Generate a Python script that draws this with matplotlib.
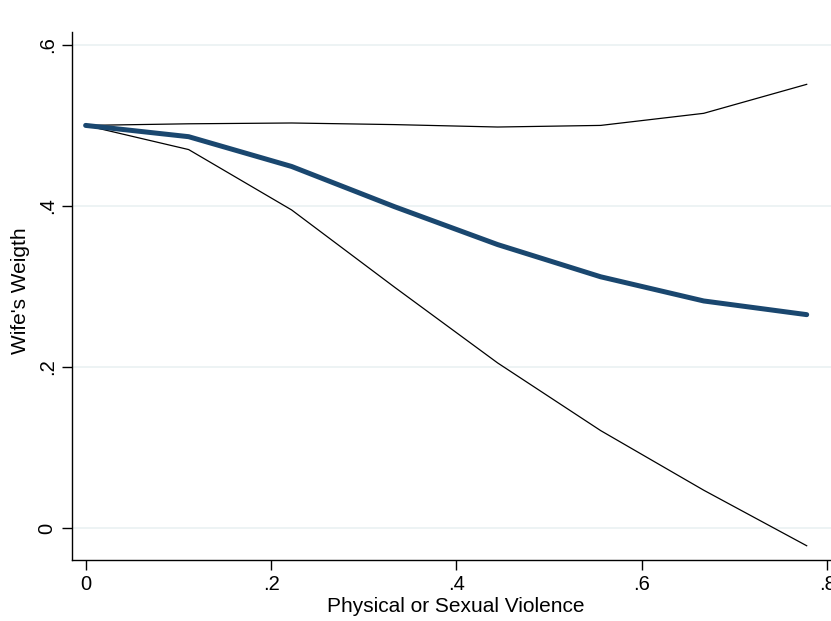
#!/usr/bin/env python3

import matplotlib
matplotlib.use('Agg')
from matplotlib import pyplot as plt

# Violence index grid and the fitted weight with its band
violence = [0, 1 / 9, 2 / 9, 3 / 9, 4 / 9, 5 / 9, 6 / 9, 7 / 9]
weight = [0.500, 0.486, 0.449, 0.399, 0.352, 0.312, 0.282, 0.265]
upper = [0.500, 0.502, 0.503, 0.501, 0.498, 0.500, 0.515, 0.551]
lower = [0.500, 0.470, 0.395, 0.299, 0.205, 0.121, 0.047, -0.022]

x_ticks = [0, 0.2, 0.4, 0.6, 0.8]
x_tick_labels = ['0', '.2', '.4', '.6', '.8']
y_ticks = [0, 0.2, 0.4, 0.6]
y_tick_labels = ['0', '.2', '.4', '.6']

out_file = 'out.png'

plt.rcParams['font.family'] = ['Liberation Sans', 'DejaVu Sans']

fig = plt.figure(figsize=(8.31, 6.21), dpi=100)
ax = fig.add_axes([72 / 831, 61 / 621, 759 / 831, 528 / 621])

# Band edges first, then the estimate on top
ax.plot(violence, upper, color='black', linewidth=0.9)
ax.plot(violence, lower, color='black', linewidth=0.9)
ax.plot(violence, weight, color='#1a476f', linewidth=3.6,
        solid_capstyle='round')

ax.set_xlim(-0.0147, 0.804)
ax.set_ylim(-0.0397, 0.616)

ax.set_xticks(x_ticks)
ax.set_xticklabels(x_tick_labels)
ax.set_yticks(y_ticks)
ax.set_yticklabels(y_tick_labels, rotation=90, va='center')

ax.grid(axis='y', color='#eaf1f2', linewidth=1.2)
ax.set_axisbelow(True)
for side in ['top', 'right']:
    ax.spines[side].set_visible(False)
for side in ['left', 'bottom']:
    ax.spines[side].set_color('black')
    ax.spines[side].set_linewidth(1.0)

ax.tick_params(axis='both', length=7, width=1.0, labelsize=14.5,
               color='black', pad=4)

ax.set_xlabel('Physical or Sexual Violence', fontsize=15)
ax.set_ylabel("Wife's Weigth", fontsize=15)
ax.xaxis.set_label_coords(0.505, -0.07)
ax.yaxis.set_label_coords(-0.055, 0.51)

plt.savefig(out_file, dpi=100)
